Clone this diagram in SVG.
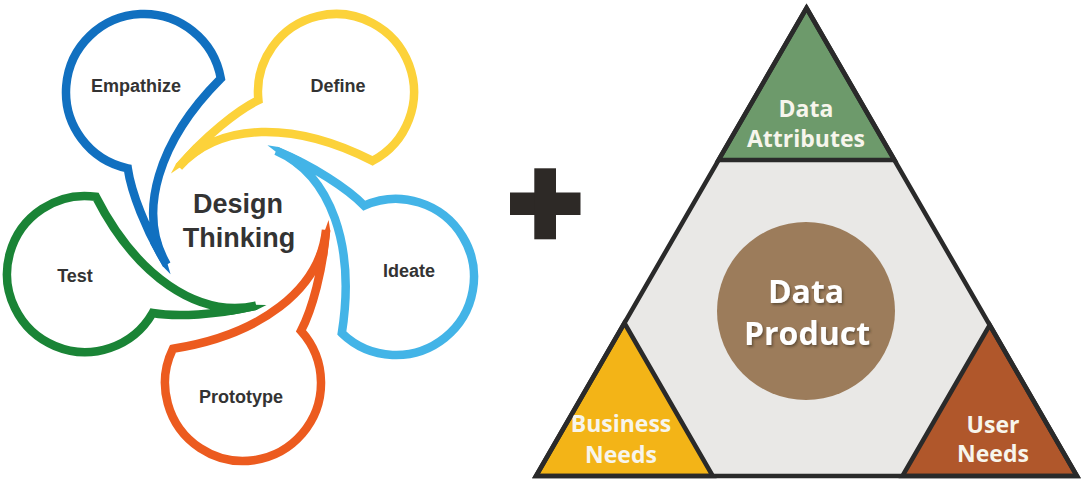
<svg xmlns="http://www.w3.org/2000/svg" width="1083" height="482" viewBox="0 0 1083 482">
<defs>
<g id="bubble">
<path d="M -70.1,-34.2 C 17,-48 77,-93 83,-153 C 80,-113 69,-73 58,-52.2 A 78 78 0 1 1 -70.1,-34.2 Z" fill="none" stroke="currentColor" stroke-width="8.5" stroke-linejoin="miter" stroke-miterlimit="4"/>
<path d="M 72.4,-126 L 85.6,-163 L 87.3,-152 L 84,-126 Z" fill="currentColor"/>
</g>
<filter id="shadow" x="-20%" y="-20%" width="140%" height="140%">
<feDropShadow dx="1.5" dy="2" stdDeviation="1.2" flood-color="#3a2e22" flood-opacity="0.55"/>
</filter>
</defs>
<style>
.lbl{font-family:"Liberation Sans",Arial,sans-serif;font-weight:bold;font-size:18px;fill:#333;text-anchor:middle}
.big{font-family:"Liberation Sans",Arial,sans-serif;font-weight:bold;font-size:27px;fill:#333;text-anchor:middle}
.tri{stroke:#2a2a2a;stroke-width:4.5;stroke-linejoin:miter}
.wt{font-family:"Open Sans","Noto Sans",sans-serif;font-weight:bold;font-size:23px;fill:#f7f5ec;text-anchor:middle}
.wt2{font-family:"Open Sans","Noto Sans",sans-serif;font-weight:bold;font-size:32px;fill:#ffffff;text-anchor:middle;filter:url(#shadow)}
</style>
<rect width="1083" height="482" fill="#ffffff"/>

<g id="design-thinking">
<g id="prototype"><use href="#bubble" color="#ec5b1f" transform="translate(243,383) rotate(0)"/><text class="lbl" x="241" y="403">Prototype</text></g>
<g id="test"><use href="#bubble" color="#1a8436" transform="translate(85,274) rotate(72)"/><text class="lbl" x="75" y="282">Test</text></g>
<g id="empathize"><use href="#bubble" color="#1170c0" transform="translate(144,92) rotate(144)"/><text class="lbl" x="136" y="92">Empathize</text></g>
<g id="define"><use href="#bubble" color="#fcd23a" transform="translate(336,92) rotate(216)"/><text class="lbl" x="338" y="92">Define</text></g>
<g id="ideate"><use href="#bubble" color="#43b4e7" transform="translate(396,277) rotate(288)"/><text class="lbl" x="409" y="277">Ideate</text></g>
<g id="center-label"><text class="big" x="238" y="213">Design</text><text class="big" x="239" y="247">Thinking</text></g>
</g>

<g id="plus"><rect x="510" y="192.5" width="70.5" height="22.5" fill="#2d2926"/><rect x="534.3" y="168.3" width="21.7" height="71" fill="#2d2926"/></g>

<g id="data-product-triangle">
<polygon points="806.5,8 1077,476 536,476" fill="#e9e8e6"/>
<g id="data-attributes"><polygon class="tri" points="806.5,8 894.5,160 718.5,160" fill="#6d9a6b"/><text class="wt" x="806" y="117">Data</text><text class="wt" x="806" y="147">Attributes</text></g>
<g id="business-needs"><polygon class="tri" points="624.4,323 712.8,476 536,476" fill="#f3b417"/><text class="wt" x="621" y="432">Business</text><text class="wt" x="621" y="463">Needs</text></g>
<g id="user-needs"><polygon class="tri" points="989.7,325 1077,476 902.4,476" fill="#b0572b"/><text class="wt" x="993" y="433">User</text><text class="wt" x="993" y="462">Needs</text></g>
<polygon class="tri" points="806.5,8 1077,476 536,476" fill="none"/>
<g id="data-product"><circle cx="806" cy="311" r="89" fill="#9c7c5b"/><text class="wt2" x="806" y="303">Data</text><text class="wt2" x="807" y="345">Product</text></g>
</g>
</svg>
